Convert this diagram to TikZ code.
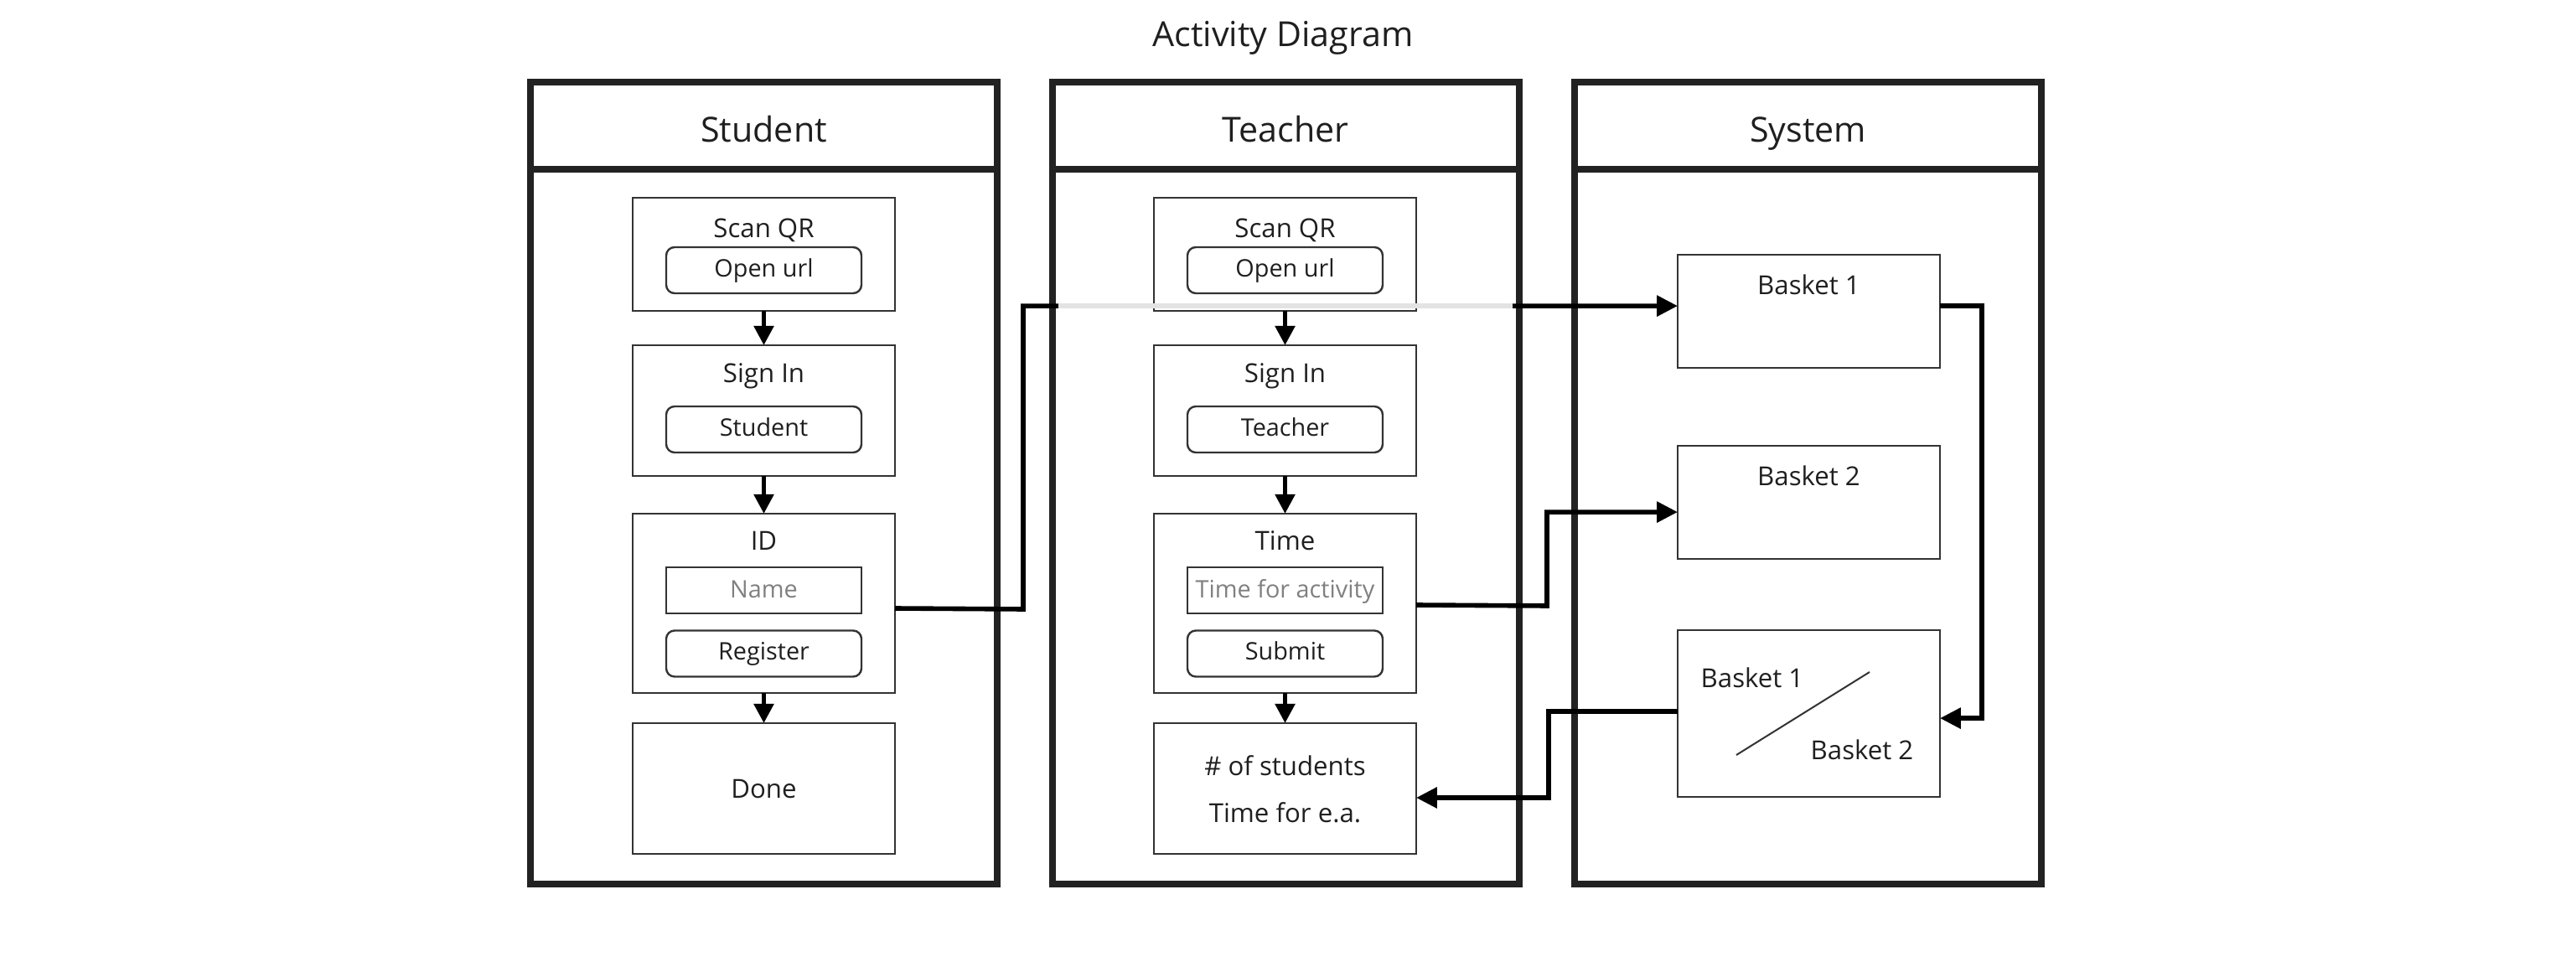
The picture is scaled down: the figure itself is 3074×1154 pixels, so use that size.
\documentclass[tikz,border=0pt]{standalone}
\usepackage{fontspec}
\setmainfont{Open Sans}
\usetikzlibrary{arrows.meta,calc}
\definecolor{lanec}{HTML}{222222}
\definecolor{boxc}{HTML}{333333}
\definecolor{txt}{HTML}{1F1F1F}
\definecolor{ghost}{HTML}{E3E3E3}
\definecolor{hint}{HTML}{808080}
\begin{document}
\begin{tikzpicture}[x=0.25pt,y=-0.25pt,
  lanehead/.style={draw=lanec, line width=2pt, fill=white, minimum width=139.25pt, minimum height=26pt, inner sep=0pt, outer sep=0pt},
  headtext/.style={inner sep=0pt, text height=7.35pt, text depth=0pt, font=\fontsize{10.3}{12}\selectfont, text=txt},
  lanebody/.style={draw=lanec, line width=2pt, fill=white, minimum width=139.25pt, minimum height=213.25pt, inner sep=0pt, outer sep=0pt},
  actbox/.style={draw=boxc, line width=0.6pt, fill=white, minimum width=78.25pt, inner sep=0pt, outer sep=0pt},
  btn/.style={draw=boxc, line width=0.6pt, rounded corners=2.5pt, minimum width=58.25pt, minimum height=13.75pt, inner sep=0pt, text height=5.14pt, text depth=1.2pt, font=\fontsize{7.2}{9}\selectfont, text=txt},
  field/.style={draw=boxc, line width=0.6pt, minimum width=58.25pt, minimum height=13.75pt, inner sep=0pt, text height=5.14pt, text depth=0.8pt, font=\fontsize{7.2}{9}\selectfont, text=hint},
  boxtitle/.style={inner sep=0pt, text height=5.57pt, text depth=0pt, font=\fontsize{7.8}{9}\selectfont, text=txt},
  conn/.style={line width=1.4pt, -{Triangle[length=6.2pt,width=6pt]}},
  flow/.style={line width=1.3pt, -{Triangle[length=5.8pt,width=5.8pt]}}
]
\useasboundingbox (0,0) rectangle (3074,1154);

% title
\node[headtext] (title) at (1531,41) {Activity Diagram};

% lanes
\node[lanebody] (sbody) at (911.5,628.5) {};
\node[lanehead] (shead) at (911.5,150) {};
\node[headtext] (sheadt) at (911.5,155) {Student};
\node[lanebody] (tbody) at (1534,628.5) {};
\node[lanehead] (thead) at (1534,150) {};
\node[headtext] (theadt) at (1534,155) {Teacher};
\node[lanebody] (ybody) at (2157.5,628.5) {};
\node[lanehead] (yhead) at (2157.5,150) {};
\node[headtext] (yheadt) at (2157.5,155) {System};

% student column
\node[actbox, minimum height=33.75pt] (sscan) at (911.5,303.5) {};
\node[boxtitle] (sscant) at (911.5,272) {Scan QR};
\node[btn] (sopen) at (911.5,322.5) {Open url};
\node[actbox, minimum height=39pt] (ssign) at (911.5,490) {};
\node[boxtitle] (ssignt) at (911.5,445) {Sign In};
\node[btn] (sstud) at (911.5,512.5) {Student};
\node[actbox, minimum height=53.5pt] (sid) at (911.5,720) {};
\node[boxtitle] (sidt) at (911.5,645) {ID};
\node[field] (sname) at (911.5,704.5) {Name};
\node[btn] (sreg) at (911.5,780) {Register};
\node[actbox, minimum height=39pt] (sdone) at (911.5,941) {};
\node[boxtitle] (sdonet) at (911.5,941) {Done};

% teacher column
\node[actbox, minimum height=33.75pt] (tscan) at (1533.5,303.5) {};
\node[boxtitle] (tscant) at (1533.5,272) {Scan QR};
\node[btn] (topen) at (1533.5,322.5) {Open url};
\node[actbox, minimum height=39pt] (tsign) at (1533.5,490) {};
\node[boxtitle] (tsignt) at (1533.5,445) {Sign In};
\node[btn] (tteach) at (1533.5,512.5) {Teacher};
\node[actbox, minimum height=53.5pt] (ttime) at (1533.5,720) {};
\node[boxtitle] (ttimet) at (1533.5,645) {Time};
\node[field] (tfield) at (1533.5,704.5) {Time for activity};
\node[btn] (tsub) at (1533.5,780) {Submit};
\node[actbox, minimum height=39pt] (tcnt) at (1533.5,941) {};
\node[boxtitle] (tcnt1) at (1533.5,914) {\# of students};
\node[boxtitle] (tcnt2) at (1533.5,970) {Time for e.a.};

% system column
\node[actbox, minimum height=33.75pt] (b1) at (2158.5,371.5) {};
\node[boxtitle] (b1t) at (2158.5,340) {Basket 1};
\node[actbox, minimum height=33.75pt] (b2) at (2158.5,599.5) {};
\node[boxtitle] (b2t) at (2158.5,568) {Basket 2};
\node[actbox, minimum height=49.75pt] (b12) at (2158.5,851.5) {};
\node[boxtitle] (b12a) at (2091,809) {Basket 1};
\node[boxtitle] (b12b) at (2222,895) {Basket 2};
\coordinate (d1) at (2231,802);
\coordinate (d2) at (2072,901);
\draw[boxc, line width=0.5pt] (d1) -- (d2);

% flow arrows inside lanes
\draw[flow] (sscan.south) -- (ssign.north);
\draw[flow] (ssign.south) -- (sid.north);
\draw[flow] (sid.south) -- (sdone.north);
\draw[flow] (tscan.south) -- (tsign.north);
\draw[flow] (tsign.south) -- (ttime.north);
\draw[flow] (ttime.south) -- (tcnt.north);

% cross-lane connectors
\draw[conn] ([yshift=-1.5pt]sid.east) -- ++(153,1) |- ([yshift=1.6pt]b1.west);
\coordinate (g1) at (1263,365);
\coordinate (g2) at (1805,365);
\draw[ghost, line width=1.5pt] (g1) -- (g2);
\draw[conn] ([yshift=-0.5pt]ttime.east) -- ++(156,1) |- ([yshift=-2.9pt]b2.west);
\draw[conn] ([yshift=1.6pt]b1.east) -- ++(50,0) |- ([yshift=-1.4pt]b12.east);
\draw[conn] ([yshift=0.6pt]b12.west) -- ++(-154,0) |- ([yshift=-2.75pt]tcnt.east);
\end{tikzpicture}
\end{document}
